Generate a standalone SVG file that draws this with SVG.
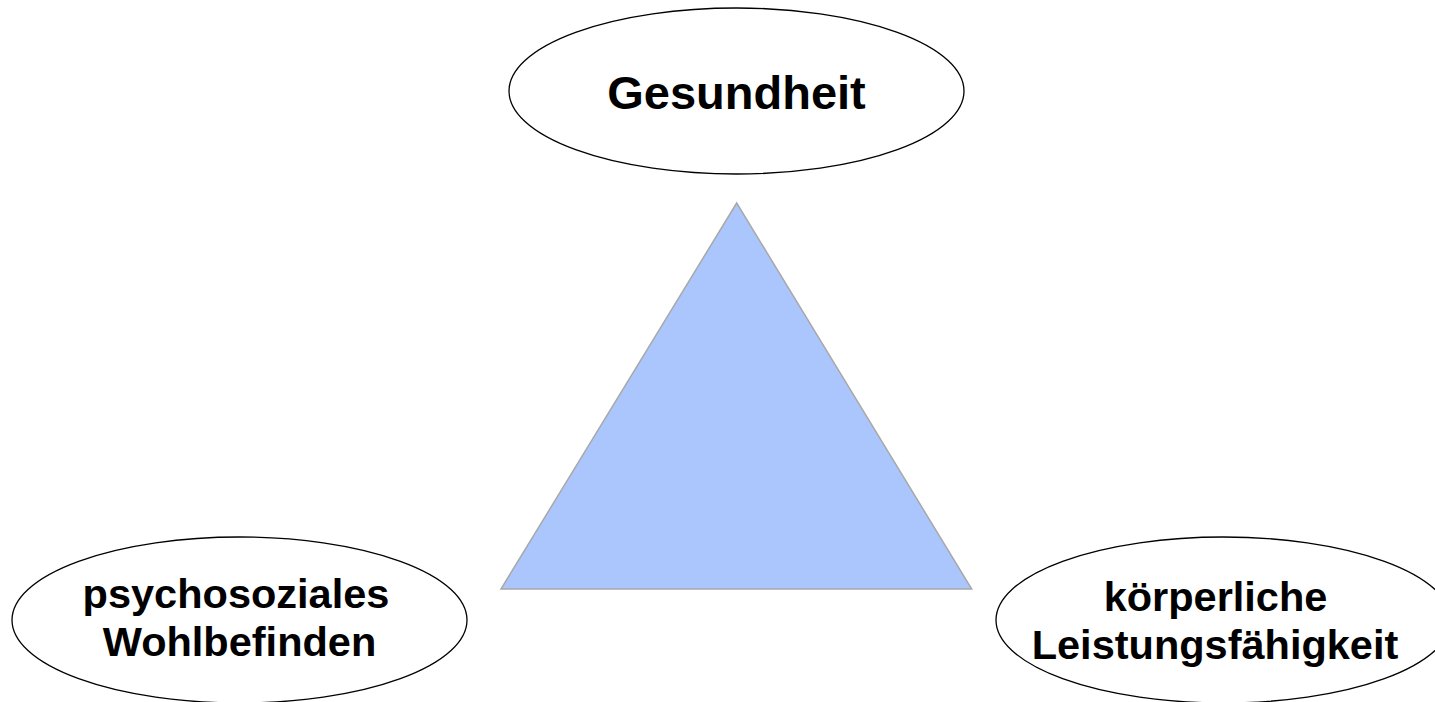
<svg xmlns="http://www.w3.org/2000/svg" width="1435" height="702" viewBox="0 0 1435 702">
<style>
.node ellipse{fill:#fff;stroke:#000;stroke-width:1.3}
.lbl{font-family:"Liberation Sans",Arial,sans-serif;font-weight:bold;fill:#000;text-anchor:middle}
</style>
<rect width="1435" height="702" fill="#fff"/>
<g id="triangle">
<polygon points="736.7,203 501,589 971.7,589" fill="#aac6fc" stroke="#a8a8a8" stroke-width="1.5"/>
</g>
<g id="connectors"></g>
<g id="gesundheit" class="node">
<ellipse cx="736.5" cy="91" rx="227.5" ry="83"/>
<text class="lbl" x="736.5" y="109" font-size="47">Gesundheit</text>
</g>
<g id="psychosoziales" class="node">
<ellipse cx="239.5" cy="620" rx="227.5" ry="83"/>
<text class="lbl" x="236" y="607.5" font-size="41.5">psychosoziales</text>
<text class="lbl" x="239.5" y="655.5" font-size="41.5">Wohlbefinden</text>
</g>
<g id="koerperlich" class="node">
<ellipse cx="1223.5" cy="620" rx="227.5" ry="83"/>
<text class="lbl" x="1215.5" y="610.5" font-size="41.5">körperliche</text>
<text class="lbl" x="1215" y="658.5" font-size="41.5">Leistungsfähigkeit</text>
</g>
</svg>
